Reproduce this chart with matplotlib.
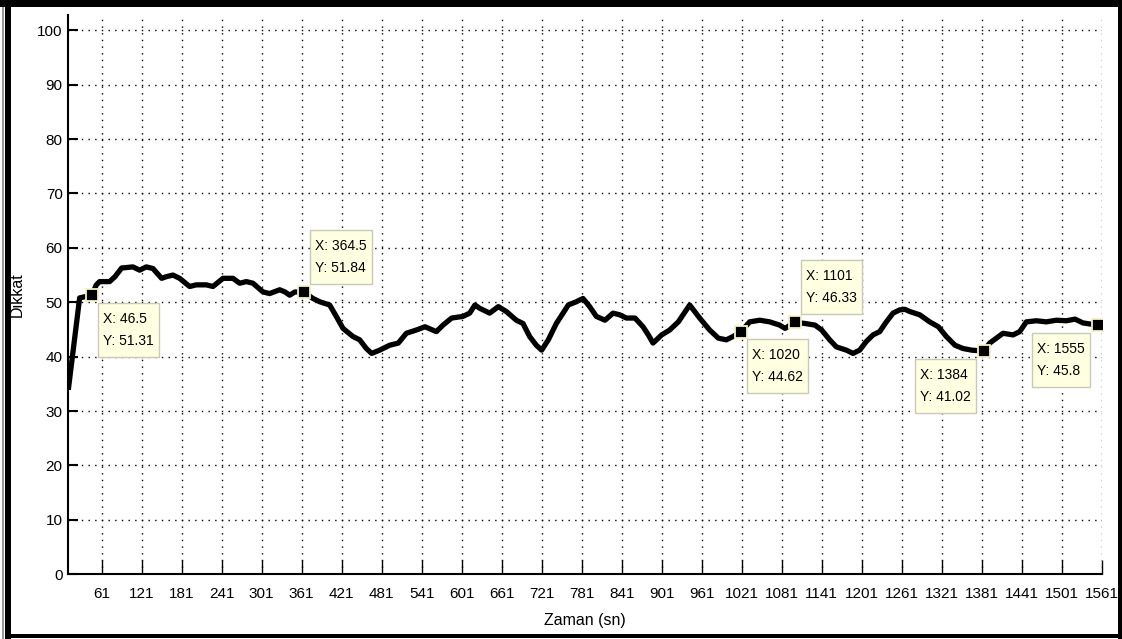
import matplotlib
matplotlib.use("Agg")
import matplotlib.pyplot as plt
from matplotlib.patches import Rectangle
from matplotlib.transforms import IdentityTransform

plt.rcParams['font.family'] = ['Liberation Sans', 'DejaVu Sans']

# attention level over time
time_s = [11, 28, 46.5, 53, 58, 73, 81, 91, 108, 118, 128, 138, 151, 158, 168, 178,
          193, 203, 218, 228, 243, 258, 268, 278, 288, 303, 313, 328, 336, 343, 351,
          364.5, 378, 388, 403, 413, 423, 438, 448, 458, 466, 478, 493, 506, 518, 533,
          546, 563, 573, 586, 603, 613, 621, 628, 643, 656, 668, 683, 693, 703, 713,
          721, 731, 743, 761, 773, 783, 793, 803, 816, 828, 838, 848, 861, 873, 881,
          888, 901, 913, 926, 938, 943, 958, 973, 986, 998, 1008, 1020, 1033, 1048,
          1063, 1078, 1086, 1101, 1116, 1131, 1141, 1153, 1163, 1178, 1188, 1198, 1208,
          1218, 1228, 1238, 1248, 1258, 1266, 1273, 1288, 1303, 1316, 1328, 1341, 1353,
          1366, 1384, 1393, 1403, 1413, 1428, 1438, 1448, 1463, 1478, 1493, 1508, 1521,
          1533, 1555, 1561]
dikkat = [33.9, 50.8, 51.31, 53.2, 53.8, 53.8, 54.7, 56.3, 56.5, 55.9, 56.5, 56.2, 54.4,
          54.7, 55.0, 54.4, 52.9, 53.2, 53.2, 52.9, 54.4, 54.4, 53.5, 53.8, 53.5, 51.9,
          51.6, 52.3, 51.9, 51.3, 51.9, 51.84, 50.7, 50.1, 49.5, 47.4, 45.2, 43.7, 43.1,
          41.5, 40.6, 41.2, 42.1, 42.5, 44.3, 44.9, 45.5, 44.6, 45.8, 47.1, 47.4, 48.0,
          49.5, 48.9, 48.0, 49.2, 48.3, 46.7, 46.1, 43.7, 42.1, 41.2, 43.1, 46.1, 49.5,
          50.1, 50.7, 49.2, 47.4, 46.7, 48.0, 47.7, 47.1, 47.1, 45.5, 44.0, 42.5, 44.0,
          44.9, 46.4, 48.6, 49.5, 47.1, 44.9, 43.4, 43.1, 43.7, 44.62, 46.4, 46.7, 46.4,
          45.8, 45.2, 46.33, 46.1, 45.8, 44.9, 43.1, 41.8, 41.2, 40.6, 41.2, 42.8, 44.0,
          44.6, 46.4, 48.0, 48.6, 48.7, 48.3, 47.7, 46.4, 45.5, 43.7, 42.1, 41.5, 41.2,
          41.02, 42.5, 43.4, 44.3, 44.0, 44.6, 46.4, 46.6, 46.4, 46.7, 46.6, 46.9, 46.2,
          45.8, 45.9]

# data tips
tip_x = [46.5, 364.5, 1020, 1101, 1384, 1555]
tip_y = [51.31, 51.84, 44.62, 46.33, 41.02, 45.8]
tip_labels = ["X: 46.5\nY: 51.31", "X: 364.5\nY: 51.84", "X: 1020\nY: 44.62",
              "X: 1101\nY: 46.33", "X: 1384\nY: 41.02", "X: 1555\nY: 45.8"]
# which side of the tip the box sits on: (+1 right / -1 left, +1 above / -1 below)
tip_side = [(1, -1), (1, 1), (1, -1), (1, 1), (-1, -1), (-1, -1)]

x_ticks = list(range(61, 1562, 60))
y_ticks = list(range(0, 101, 10))

W, H = 1122, 639
fig = plt.figure(figsize=(W / 100, H / 100), dpi=100)
fig.patch.set_facecolor('white')

ax = fig.add_axes([68.3 / W, (H - 574.3) / H, (1101.7 - 68.3) / W, (574.3 - 15) / H])
ax.set_facecolor('white')

ax.plot(time_s, dikkat, color='black', lw=3.8, solid_joinstyle='round',
        solid_capstyle='butt', zorder=3)
ax.plot(tip_x, tip_y, ls='none', marker='s', ms=8, mfc='black',
        mec='#f4f0c4', mew=1.3, zorder=4)

ax.set_xlim(11, 1561)
ax.set_ylim(0, 102.8)
ax.set_xticks(x_ticks)
ax.set_yticks(y_ticks)
ax.set_xticklabels([str(v) for v in x_ticks])
ax.set_yticklabels([str(v) for v in y_ticks])

ax.grid(True, color='black', lw=1.0, ls=(0, (1, 3.8)))
ax.set_axisbelow(True)

for side in ('top', 'right'):
    ax.spines[side].set_visible(False)
for side in ('left', 'bottom'):
    ax.spines[side].set_linewidth(1.5)
    ax.spines[side].set_color('black')

ax.tick_params(axis='x', direction='in', length=10, width=1.0, labelsize=11, pad=9)
ax.tick_params(axis='y', direction='in', length=7.5, width=1.5, labelsize=11, pad=4)

ax.set_xlabel('Zaman (sn)', fontsize=11.5, labelpad=9)
ax.set_ylabel('Dikkat', fontsize=11.5, labelpad=9)

# data-tip boxes, laid out in display pixels around each marker
renderer = fig.canvas.get_renderer()
pad_x, pad_top, pad_bot = 5, 9, 9
for x, y, lab, (sx, sy) in zip(tip_x, tip_y, tip_labels, tip_side):
    mx, my = ax.transData.transform((x, y))
    t = fig.text(0, 0, lab, transform=IdentityTransform(), fontsize=10,
                 linespacing=1.72, ha='left', va='top', multialignment='left',
                 color='black', zorder=12)
    ext = t.get_window_extent(renderer)
    bw = ext.width + 2 * pad_x
    bh = ext.height + pad_top + pad_bot
    left = mx + 6 if sx > 0 else mx - 7.5 - bw
    bottom = my + 8.5 if sy > 0 else my - 7.5 - bh
    t.set_position((left + pad_x, bottom + bh - pad_top))
    fig.add_artist(Rectangle((left, bottom), bw, bh, transform=IdentityTransform(),
                             facecolor='#ffffe1', edgecolor='#c9c9b8', lw=1.0,
                             zorder=11))

# window frame
def px_rect(x0, y0, x1, y1, color):
    fig.add_artist(Rectangle((x0 / W, 1 - y1 / H), (x1 - x0) / W, (y1 - y0) / H,
                             transform=fig.transFigure, facecolor=color,
                             edgecolor='none', zorder=20))

px_rect(2, 0, 3.5, H, '#9a9a9a')
px_rect(0, 0, W, 7, 'black')
px_rect(5, 0, 10.5, H, 'black')
px_rect(W - 4, 0, W, H, 'black')
px_rect(5, H - 5, W, H - 1, 'black')

fig.savefig('out.png', dpi=100, facecolor='white')
